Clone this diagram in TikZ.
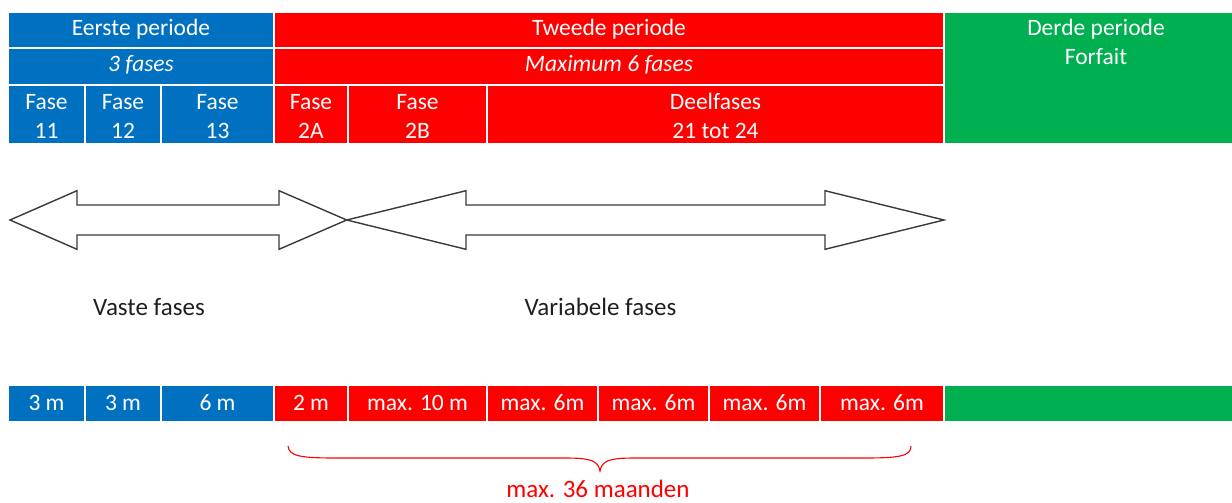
\documentclass[tikz,border=0pt]{standalone}
\usepackage{fontspec}
\setmainfont{Carlito}
\definecolor{pblue}{HTML}{0070C0}
\definecolor{pred}{HTML}{FF0000}
\definecolor{pgreen}{HTML}{00B050}
\definecolor{outline}{HTML}{3A3A3A}
\tikzset{
  cell/.style={anchor=north west, inner sep=0pt, outer sep=0pt, draw=none},
  celltxt/.style={anchor=base, inner sep=0pt, text=white, font=\fontsize{23.5}{28}\selectfont},
  lbl/.style={anchor=base, inner sep=0pt, text=black!88, font=\fontsize{25}{30}\selectfont},
  redlbl/.style={lbl, text=pred},
  bigarrow/.style={draw=outline, line width=1.4pt, fill=white, line join=miter},
  bracepath/.style={draw=pred, line width=1.1pt},
}
% coloured cell: name, x1, y1, x2, y2, colour
\newcommand\cellbox[6]{%
  \node[cell, fill=#6, minimum width={#4-#2}, minimum height={#5-#3}] (#1) at (#2,#3) {};}
\begin{document}
\begin{tikzpicture}[x=1pt, y=-1pt]
\useasboundingbox (0,0) rectangle (1232,503);

% ---- period table ----
\cellbox{p1}{9}{13}{273}{47}{pblue}
\cellbox{p2}{275}{13}{943}{47}{pred}
\cellbox{p3}{945}{13}{1232}{143}{pgreen}
\cellbox{n1}{9}{49}{273}{84}{pblue}
\cellbox{n2}{275}{49}{943}{84}{pred}
\cellbox{f11}{9}{86}{84}{143}{pblue}
\cellbox{f12}{86}{86}{160}{143}{pblue}
\cellbox{f13}{162}{86}{273}{143}{pblue}
\cellbox{f2a}{275}{86}{347}{143}{pred}
\cellbox{f2b}{349}{86}{486}{143}{pred}
\cellbox{fd}{488}{86}{943}{143}{pred}

\node[celltxt] (tp1) at (141,36) {Eerste periode};
\node[celltxt] (tp2) at (609,36) {Tweede periode};
\node[celltxt] (tp3a) at (1096,36) {Derde periode};
\node[celltxt] (tp3b) at (1096,65) {Forfait};
\node[celltxt] (tn1) at (141,72) {\itshape 3 fases};
\node[celltxt] (tn2) at (609,72) {\itshape Maximum 6 fases};
\node[celltxt] (t11a) at (46.5,110) {Fase};
\node[celltxt] (t11b) at (46.5,138) {11};
\node[celltxt] (t12a) at (123,110) {Fase};
\node[celltxt] (t12b) at (123,138) {12};
\node[celltxt] (t13a) at (217.5,110) {Fase};
\node[celltxt] (t13b) at (217.5,138) {13};
\node[celltxt] (t2aa) at (311,110) {Fase};
\node[celltxt] (t2ab) at (311,138) {2A};
\node[celltxt] (t2ba) at (417.5,110) {Fase};
\node[celltxt] (t2bb) at (417.5,138) {2B};
\node[celltxt] (tda) at (715.5,110) {Deelfases};
\node[celltxt] (tdb) at (715.5,138) {21 tot 24};

% ---- double arrows ----
\draw[bigarrow] (10,220) -- (77,190.7) -- (77,205) -- (279,205) -- (279,190.7)
  -- (346.7,220) -- (279,249.3) -- (279,235) -- (77,235) -- (77,249.3) -- cycle;
\draw[bigarrow] (346.7,220) -- (466,190.7) -- (466,205) -- (825,205) -- (825,190.7)
  -- (944,220) -- (825,249.3) -- (825,235) -- (466,235) -- (466,249.3) -- cycle;

\node[lbl] (vaste) at (149,315) {Vaste fases};
\node[lbl] (variabel) at (600.5,315) {Variabele fases};

% ---- duration bar ----
\cellbox{d1}{9}{386}{84}{421}{pblue}
\cellbox{d2}{86}{386}{160}{421}{pblue}
\cellbox{d3}{162}{386}{273}{421}{pblue}
\cellbox{d4}{275}{386}{347}{421}{pred}
\cellbox{d5}{349}{386}{486}{421}{pred}
\cellbox{d6}{488}{386}{597}{421}{pred}
\cellbox{d7}{599}{386}{708}{421}{pred}
\cellbox{d8}{710}{386}{819}{421}{pred}
\cellbox{d9}{821}{386}{943}{421}{pred}
\cellbox{d10}{945}{386}{1232}{421}{pgreen}

\node[celltxt] (td1) at (46.5,410) {3 m};
\node[celltxt] (td2) at (123,410) {3 m};
\node[celltxt] (td3) at (217.5,410) {6 m};
\node[celltxt] (td4) at (311,410) {2 m};
\node[celltxt] (td5) at (417.5,410) {max. 10 m};
\node[celltxt] (td6) at (542.5,410) {max. 6m};
\node[celltxt] (td7) at (653.5,410) {max. 6m};
\node[celltxt] (td8) at (764.5,410) {max. 6m};
\node[celltxt] (td9) at (882,410) {max. 6m};

% ---- brace with total ----
\coordinate (bl) at (288,446);
\coordinate (bm) at (600,471);
\coordinate (br) at (911,446);
\draw[bracepath] (bl) .. controls (289,456) and (300,458) .. (335,458)
  -- (565,458) .. controls (592,458) and (598,461) .. (bm)
  .. controls (602,461) and (608,458) .. (635,458)
  -- (865,458) .. controls (900,458) and (911,456) .. (br);
\node[redlbl] (total) at (598,497) {max. 36 maanden};
\end{tikzpicture}
\end{document}
